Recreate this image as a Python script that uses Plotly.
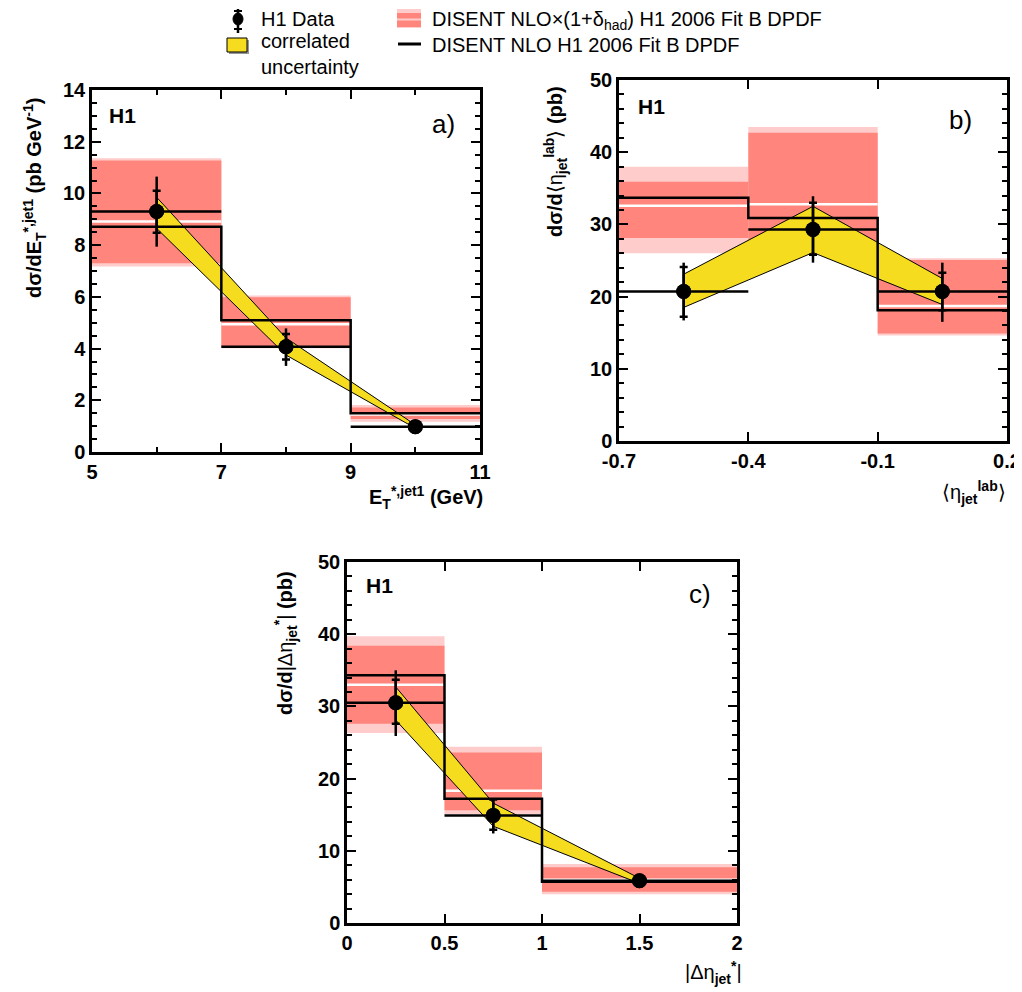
import plotly.graph_objects as go

# ---------------- data ----------------
# panel a: E_T*,jet1
a_edges = [5, 7, 9, 11]
a_x = [6, 8, 10]
a_y = [9.3, 4.07, 0.98]
a_stat_up = [0.80, 0.49, 0.06]
a_stat_dn = [0.82, 0.49, 0.06]
a_tot_up = [1.35, 0.71, 0.10]
a_tot_dn = [1.36, 0.74, 0.10]
a_corr_hi = [9.85, 4.41, 1.05]
a_corr_lo = [8.65, 3.75, 0.92]
a_nlo = [8.71, 5.10, 1.50]
a_had = [8.91, 4.94, 1.45]
a_in_hi = [11.27, 5.98, 1.72]
a_in_lo = [7.30, 4.07, 1.28]
a_out_hi = [11.36, 6.05, 1.82]
a_out_lo = [7.17, 4.01, 1.17]
a_xticks = [5, 7, 9, 11]
a_xlabels = ["5", "7", "9", "11"]

# panel b: <eta_jet^lab>
b_edges = [-0.7, -0.4, -0.1, 0.2]
b_x = [-0.55, -0.25, 0.05]
b_y = [20.7, 29.3, 20.7]
b_stat_up = [3.4, 3.7, 2.6]
b_stat_dn = [3.5, 3.5, 2.6]
b_tot_up = [4.0, 4.6, 4.0]
b_tot_dn = [4.0, 4.6, 4.2]
b_corr_hi = [23.1, 32.5, 22.5]
b_corr_lo = [18.5, 26.1, 18.9]
b_nlo = [33.7, 30.9, 18.1]
b_had = [32.6, 32.8, 18.7]
b_in_hi = [35.9, 42.7, 25.07]
b_in_lo = [28.1, 27.5, 14.9]
b_out_hi = [38.0, 43.5, 25.3]
b_out_lo = [26.0, 26.8, 14.6]
b_xticks = [-0.7, -0.4, -0.1, 0.2]
b_xlabels = ["-0.7", "-0.4", "-0.1", "0.2"]

# panel c: |Delta eta*_jet|
c_edges = [0, 0.5, 1, 2]
c_x = [0.25, 0.75, 1.5]
c_y = [30.5, 14.9, 5.86]
c_stat_up = [3.2, 2.2, 0.4]
c_stat_dn = [2.9, 2.0, 0.4]
c_tot_up = [4.5, 2.4, 0.6]
c_tot_dn = [4.6, 2.5, 0.6]
c_corr_hi = [32.7, 16.6, 6.19]
c_corr_lo = [28.1, 13.4, 5.49]
c_nlo = [34.3, 17.2, 5.73]
c_had = [33.0, 18.3, 6.0]
c_in_hi = [38.4, 23.6, 7.71]
c_in_lo = [27.6, 15.6, 4.34]
c_out_hi = [39.7, 24.4, 8.17]
c_out_lo = [26.3, 15.1, 3.97]
c_xticks = [0, 0.5, 1, 1.5, 2]
c_xlabels = ["0", "0.5", "1", "1.5", "2"]

# ---------------- style ----------------
OFF = 8  # page body margin
W, H = 1022 - OFF, 992 - OFF
FONT = "Liberation Sans"
LIGHT = "rgb(255,204,204)"
DARK = "rgb(255,133,125)"
YELLOW = "rgb(245,220,30)"


def px(x):
    return (x - OFF) / W


def py(y):
    return 1 - (y - OFF) / H


fig = go.Figure()


def panel(xa, ya, edges, xc, yv, su, sd, tu, td, chi, clo, nlo, had, ihi, ilo, ohi, olo):
    centers = [(edges[i] + edges[i + 1]) / 2 for i in range(len(edges) - 1)]
    widths = [edges[i + 1] - edges[i] for i in range(len(edges) - 1)]
    half = [w / 2 for w in widths]
    fig.add_trace(go.Bar(x=centers, y=[h - l for h, l in zip(ohi, olo)], base=olo, width=widths,
                         marker=dict(color=LIGHT, line=dict(width=0)), xaxis=xa, yaxis=ya))
    fig.add_trace(go.Bar(x=centers, y=[h - l for h, l in zip(ihi, ilo)], base=ilo, width=widths,
                         marker=dict(color=DARK, line=dict(width=0)), xaxis=xa, yaxis=ya))
    wx, wy = [], []
    for i in range(len(had)):
        wx += [edges[i], edges[i + 1], None]
        wy += [had[i], had[i], None]
    fig.add_trace(go.Scatter(x=wx, y=wy, mode="lines", line=dict(color="white", width=2.5),
                             xaxis=xa, yaxis=ya))
    fig.add_trace(go.Scatter(x=list(xc) + list(xc)[::-1], y=list(chi) + list(clo)[::-1],
                             fill="toself", fillcolor=YELLOW, mode="lines",
                             line=dict(color="black", width=1), xaxis=xa, yaxis=ya))
    fig.add_trace(go.Scatter(x=edges, y=list(nlo) + [nlo[-1]], mode="lines",
                             line=dict(color="black", width=2.5, shape="hv"), xaxis=xa, yaxis=ya))
    fig.add_trace(go.Scatter(x=xc, y=yv, mode="markers",
                             marker=dict(color="black", size=15),
                             error_x=dict(type="data", array=half, color="black", thickness=2.5, width=0),
                             error_y=dict(type="data", array=tu, arrayminus=td, color="black",
                                          thickness=2.5, width=0),
                             xaxis=xa, yaxis=ya))
    fig.add_trace(go.Scatter(x=xc, y=yv, mode="markers",
                             marker=dict(color="black", size=15),
                             error_y=dict(type="data", array=su, arrayminus=sd, color="black",
                                          thickness=2.5, width=4),
                             xaxis=xa, yaxis=ya))


panel("x", "y", a_edges, a_x, a_y, a_stat_up, a_stat_dn, a_tot_up, a_tot_dn, a_corr_hi, a_corr_lo,
      a_nlo, a_had, a_in_hi, a_in_lo, a_out_hi, a_out_lo)
panel("x2", "y2", b_edges, b_x, b_y, b_stat_up, b_stat_dn, b_tot_up, b_tot_dn, b_corr_hi, b_corr_lo,
      b_nlo, b_had, b_in_hi, b_in_lo, b_out_hi, b_out_lo)
panel("x3", "y3", c_edges, c_x, c_y, c_stat_up, c_stat_dn, c_tot_up, c_tot_dn, c_corr_hi, c_corr_lo,
      c_nlo, c_had, c_in_hi, c_in_lo, c_out_hi, c_out_lo)


def xaxis(dom, rng, tv, tt, anchor, minor=None):
    d = dict(domain=dom, range=rng, tickvals=tv, ticktext=tt, anchor=anchor,
             showline=True, linecolor="black", linewidth=2.5, mirror="ticks",
             ticks="inside", ticklen=9, tickwidth=1.5, tickcolor="black",
             showgrid=False, zeroline=False, automargin=False,
             tickfont=dict(family=FONT, size=20, color="black", weight="bold"))
    if minor is not None:
        d["minor"] = dict(dtick=minor, ticks="inside", ticklen=5, tickwidth=1.5, tickcolor="black",
                          showgrid=False, tick0=rng[0])
    return d


def yaxis(dom, rng, dt, mdt, anchor):
    return dict(domain=dom, range=rng, dtick=dt, tick0=0, anchor=anchor,
                showline=True, linecolor="black", linewidth=2.5, mirror="ticks",
                ticks="inside", ticklen=9, tickwidth=1.5, tickcolor="black",
                showgrid=False, zeroline=False, automargin=False,
                tickfont=dict(family=FONT, size=20, color="black", weight="bold"),
                minor=dict(dtick=mdt, ticks="inside", ticklen=5, tickwidth=1.5, tickcolor="black",
                           showgrid=False))


fig.update_layout(
    width=W, height=H, margin=dict(l=0, r=0, t=0, b=0),
    paper_bgcolor="white", plot_bgcolor="white", showlegend=False, barmode="overlay",
    xaxis=xaxis([px(92), px(480)], [5, 11], a_xticks, a_xlabels, "y", minor=1),
    yaxis=yaxis([py(452), py(90)], [0, 14], 2, 0.5, "x"),
    xaxis2=xaxis([px(619), px(1007)], [-0.7, 0.2], b_xticks, b_xlabels, "y2"),
    yaxis2=yaxis([py(441), py(80)], [0, 50], 10, 2, "x2"),
    xaxis3=xaxis([px(347), px(737)], [0, 2], c_xticks, c_xlabels, "y3"),
    yaxis3=yaxis([py(923), py(562)], [0, 50], 10, 2, "x3"),
)

ann = []


def text(x, y, s, size=20, xanchor="left", yanchor="middle", angle=0, bold=False):
    ann.append(dict(x=px(x), y=py(y), xref="paper", yref="paper", text=s, showarrow=False,
                    xanchor=xanchor, yanchor=yanchor, textangle=angle, align="left",
                    font=dict(family=FONT, size=size, color="black",
                              weight="bold" if bold else "normal")))


# panel labels
text(122, 115, "H1", size=21, xanchor="center", bold=True)
text(651, 106, "H1", size=21, xanchor="center", bold=True)
text(379, 585, "H1", size=21, xanchor="center", bold=True)
text(443, 124, "a)", size=26, xanchor="center")
text(960, 120, "b)", size=26, xanchor="center")
text(700, 594, "c)", size=26, xanchor="center")

# axis titles
text(34, 198, "<b>dσ/dE<sub>T</sub><sup>*,jet1</sup> (pb GeV<sup>-1</sup>)</b>", size=20,
     xanchor="center", angle=-90)
text(555, 162, "<b>dσ/d</b>⟨η<sub><b>jet</b></sub><sup><b>lab</b></sup>⟩<b> (pb)</b>", size=20,
     xanchor="center", angle=-90)
text(285, 643, "<b>dσ/d</b>|Δη<sub><b>jet</b></sub><sup><b>*</b></sup>|<b> (pb)</b>", size=20,
     xanchor="center", angle=-90)
text(485, 497, "<b>E<sub>T</sub><sup>*,jet1</sup> (GeV)</b>", size=20, xanchor="right")
text(1008, 492, "⟨η<sub><b>jet</b></sub><sup><b>lab</b></sup>⟩", size=20, xanchor="right")
text(744, 972, "|Δη<sub><b>jet</b></sub><sup><b>*</b></sup>|", size=20, xanchor="right")

# legend texts
text(259, 19, "H1 Data", size=20)
text(259, 54, "correlated<br>uncertainty", size=20)
text(430, 21, "DISENT NLO×(1+δ<sub>had</sub>) H1 2006 Fit B DPDF", size=20)
text(430, 45, "DISENT NLO H1 2006 Fit B DPDF", size=20)

fig.update_layout(annotations=ann)

shapes = []
shapes.append(dict(type="line", xref="paper", yref="paper", x0=px(238), x1=px(238), y0=py(9), y1=py(33),
                   line=dict(color="black", width=2.5)))
for yy in (11, 29):
    shapes.append(dict(type="line", xref="paper", yref="paper", x0=px(234), x1=px(242), y0=py(yy), y1=py(yy),
                       line=dict(color="black", width=2)))
shapes.append(dict(type="circle", xref="paper", yref="paper", x0=px(233), x1=px(243), y0=py(25), y1=py(13),
                   fillcolor="black", line=dict(color="black", width=1)))
shapes.append(dict(type="rect", xref="paper", yref="paper", x0=px(229), x1=px(249), y0=py(54), y1=py(40),
                   fillcolor="rgb(150,150,150)", line=dict(width=0)))
shapes.append(dict(type="rect", xref="paper", yref="paper", x0=px(227), x1=px(247), y0=py(52), y1=py(38),
                   fillcolor=YELLOW, line=dict(color="black", width=1)))
shapes.append(dict(type="rect", xref="paper", yref="paper", x0=px(397), x1=px(421), y0=py(28), y1=py(9),
                   fillcolor=LIGHT, line=dict(width=0)))
shapes.append(dict(type="rect", xref="paper", yref="paper", x0=px(397), x1=px(421), y0=py(27), y1=py(13),
                   fillcolor=DARK, line=dict(width=0)))
shapes.append(dict(type="line", xref="paper", yref="paper", x0=px(397), x1=px(421), y0=py(19.5), y1=py(19.5),
                   line=dict(color=LIGHT, width=2)))
shapes.append(dict(type="line", xref="paper", yref="paper", x0=px(398), x1=px(421), y0=py(44), y1=py(44),
                   line=dict(color="black", width=3)))
fig.update_layout(shapes=shapes)

fig.write_html("out.html")
